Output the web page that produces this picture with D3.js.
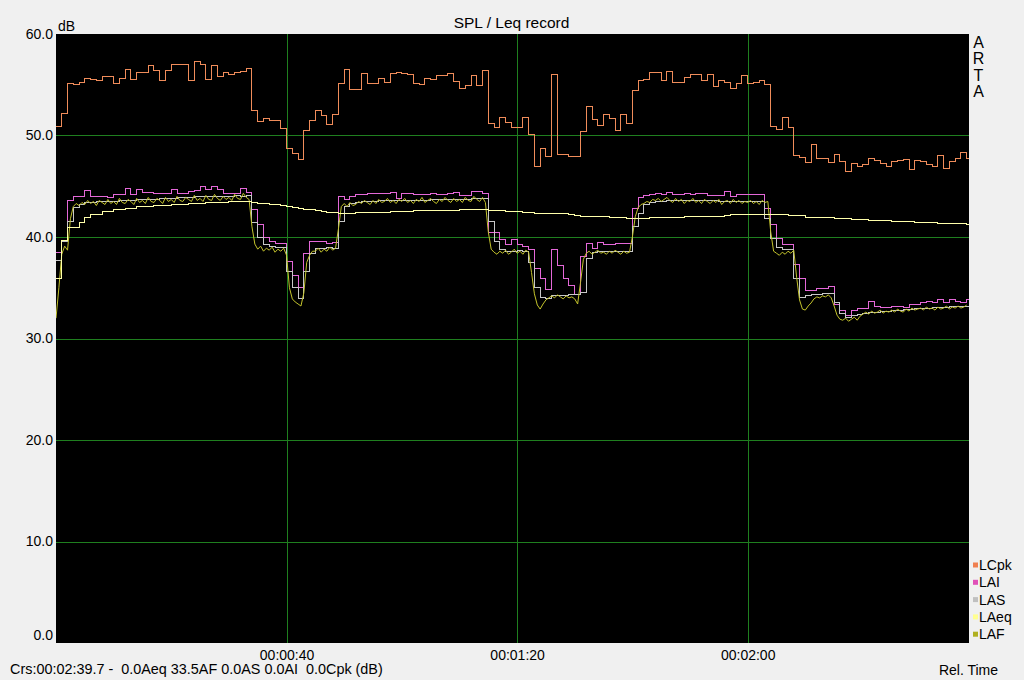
<!DOCTYPE html>
<html><head><meta charset="utf-8">
<script src="https://cdn.jsdelivr.net/npm/d3@7"></script>
<style>
html,body{margin:0;padding:0;background:#f0f0f0;}
svg{display:block;font-family:"Liberation Sans",Arial,sans-serif;}
</style></head><body>
<svg id="c" width="1024" height="680"></svg>
<script>
const title = "SPL / Leq record";
const yUnit = "dB";
const yTicks = [0,10,20,30,40,50,60];
const xTicks = [40,80,120];
const xTickLabels = ["00:00:40","00:01:20","00:02:00"];
const xDomain = [0,158.4];
const yDomain = [0,60];
const seriesNames = ["LCpk","LAI","LAS","LAeq","LAF"];
const lineColors = ["#F08C5A","#E468D8","#C8C8C8","#FFFFAA","#C4C42C"];
const legendColors = ["#F08050","#E050B8","#C0C0C0","#FFFF90","#B0B020"];
const statusText = "Crs:00:02:39.7 -  0.0Aeq 33.5AF 0.0AS 0.0AI  0.0Cpk (dB)";
const xLabel = "Rel. Time";
const brand = ["A","R","T","A"];

// one value per second (t = 0..158 s)
const lcpk = [50.9,52.2,55.1,55.0,55.2,55.6,55.5,55.4,55.85,55.85,
55.1,55.6,56.5,55.5,56.2,56.2,56.85,56.4,55.4,56.45,
57.0,57.0,57.0,55.4,57.3,56.95,55.5,56.9,55.8,56.2,
56.0,56.2,56.3,56.6,52.5,51.35,51.7,51.5,51.5,50.65,
48.7,48.2,47.65,50.5,51.5,52.5,51.95,51.1,52.05,55.15,
56.5,54.5,54.5,56.15,55.15,55.15,55.65,55.25,56.1,56.2,
56.15,56.05,55.15,55.05,55.65,55.55,55.95,55.95,56.1,55.35,
54.65,54.9,55.9,54.9,56.45,51.15,50.75,51.75,51.3,50.75,
50.75,51.8,50.05,46.95,48.7,47.9,56.05,48.1,48.1,47.95,
47.95,50.4,52.9,51.6,51.0,52.1,51.7,50.5,52.1,51.2,
54.4,55.45,55.55,56.2,56.2,55.45,56.3,55.25,55.25,55.7,
56.05,56.0,55.4,56.05,54.8,55.45,55.25,54.65,55.15,55.9,
55.15,55.25,55.45,55.0,50.9,50.55,51.75,50.75,48.05,47.8,
47.3,49.1,47.7,47.7,47.3,48.15,47.4,46.45,47.2,46.9,
47.1,47.7,47.5,47.2,46.9,47.4,47.5,47.6,46.65,47.55,
47.4,47.15,46.9,48.05,46.75,47.4,47.7,48.35,47.7];

const lai = [38.5,39.6,43.55,44.0,44.0,44.55,44.0,44.0,44.0,43.9,
44.15,44.15,44.8,44.15,44.7,44.4,44.4,44.25,44.25,44.25,
44.7,44.25,44.25,44.5,44.6,44.95,44.65,45.0,44.65,44.25,
44.25,44.25,44.8,44.4,42.7,41.2,40.0,39.6,39.35,39.35,
37.6,36.2,35.0,38.4,39.6,39.6,39.6,39.4,39.5,44.0,
43.7,44.0,44.15,44.15,44.25,44.25,44.3,44.25,44.4,43.8,
44.25,44.25,44.15,44.15,44.15,44.25,44.15,44.15,44.25,44.4,
44.05,44.05,44.5,44.5,44.25,40.45,40.45,39.8,39.25,39.8,
39.25,39.1,38.75,36.85,35.9,34.8,38.8,37.2,35.9,35.2,
34.35,38.1,39.35,38.9,39.5,39.25,39.25,39.35,39.35,39.35,
42.85,43.9,44.05,44.15,44.3,44.15,44.4,44.15,44.15,44.25,
44.15,44.25,44.25,44.05,44.05,44.05,44.5,44.0,44.15,44.15,
44.15,44.15,44.15,42.85,41.2,39.9,39.25,39.25,37.3,35.9,
34.7,34.7,34.9,34.9,35.15,33.35,32.8,32.3,32.8,32.95,
32.95,33.6,33.15,33.05,33.05,33.15,33.2,33.05,33.35,33.35,
33.5,33.6,33.5,33.8,33.5,33.8,33.6,33.5,33.8];

const las = [37.7,39.6,41.5,42.9,43.2,43.4,43.4,43.5,43.5,43.5,
43.5,43.6,43.6,43.6,43.7,43.7,43.7,43.7,43.8,43.8,
43.8,43.9,43.9,43.9,44.0,44.0,44.0,44.0,44.0,44.0,
44.0,44.1,44.0,44.1,41.4,40.0,39.25,39.1,39.0,39.0,
36.6,35.0,33.9,36.6,38.4,38.9,38.9,39.0,38.9,41.5,
43.0,43.3,43.4,43.5,43.5,43.5,43.6,43.6,43.6,43.6,
43.6,43.6,43.6,43.6,43.6,43.7,43.7,43.7,43.7,43.7,
43.7,43.7,43.8,43.8,43.8,41.5,39.6,38.8,38.6,38.6,
38.7,38.6,37.5,35.0,34.0,33.9,34.2,34.2,34.2,34.3,
34.3,34.5,37.9,38.5,38.6,38.6,38.6,38.6,38.6,38.6,
41.0,42.35,43.2,43.4,43.5,43.5,43.6,43.6,43.6,43.6,
43.6,43.6,43.6,43.6,43.6,43.5,43.5,43.5,43.5,43.5,
43.5,43.5,43.5,41.8,39.9,39.0,38.8,38.8,35.9,34.0,
34.2,34.3,34.3,34.4,34.4,33.5,32.5,32.1,32.3,32.4,
32.5,32.6,32.6,32.7,32.7,32.8,32.8,32.9,32.9,33.0,
33.0,33.0,33.1,33.1,33.1,33.2,33.2,33.2,33.2];

const laeq = [35.9,39.7,40.9,40.9,41.4,41.9,42.2,42.2,42.5,42.5,
42.7,42.7,42.85,42.85,43.0,43.0,43.0,43.1,43.1,43.1,
43.2,43.2,43.2,43.3,43.3,43.3,43.4,43.4,43.4,43.4,
43.45,43.45,43.45,43.45,43.35,43.3,43.3,43.2,43.2,43.1,
43.0,42.9,42.8,42.75,42.7,42.6,42.5,42.45,42.4,42.35,
42.35,42.35,42.4,42.4,42.4,42.4,42.4,42.45,42.5,42.5,
42.5,42.55,42.6,42.6,42.6,42.6,42.6,42.6,42.6,42.6,
42.7,42.7,42.7,42.7,42.7,42.65,42.6,42.6,42.55,42.5,
42.5,42.45,42.4,42.35,42.35,42.3,42.3,42.3,42.3,42.2,
42.15,42.05,42.05,42.05,42.05,42.0,41.95,41.95,41.95,41.85,
41.8,41.85,41.85,41.95,41.95,41.95,41.95,41.95,41.95,42.0,
42.05,42.05,42.05,42.05,42.05,42.05,42.15,42.2,42.2,42.2,
42.2,42.2,42.2,42.2,42.2,42.2,42.2,42.15,42.1,42.1,
41.95,41.95,41.95,41.95,41.9,41.85,41.85,41.85,41.75,41.75,
41.75,41.65,41.65,41.65,41.6,41.55,41.55,41.5,41.5,41.45,
41.45,41.4,41.4,41.35,41.35,41.3,41.3,41.3,41.25];

// LAF sampled every 0.5 s
const lafStep = 0.5;
const laf = [32.0,35.0,38.3,39.1,38.7,41.8,43.0,43.3,43.1,43.4,
43.2,43.6,43.3,43.5,43.1,43.6,43.4,43.2,43.7,43.3,
43.5,43.2,43.8,43.4,43.3,43.7,43.5,43.2,43.8,43.4,
43.6,43.3,43.9,43.5,43.4,43.8,43.6,43.3,43.9,43.5,
43.7,43.4,44.0,43.6,43.5,43.9,43.7,43.5,44.1,43.6,
43.8,43.5,44.1,43.7,43.6,44.2,43.8,43.6,44.0,43.7,
43.9,43.6,44.2,43.8,43.7,44.3,43.9,43.7,41.0,39.3,
38.8,39.1,38.6,38.9,38.7,39.0,38.5,38.8,38.6,38.9,
38.2,35.0,33.9,33.6,33.4,33.2,34.5,37.5,38.2,38.6,
38.6,38.9,38.5,38.8,38.6,39.0,38.7,38.9,40.8,43.0,
43.3,43.0,43.4,43.1,43.2,43.5,43.3,43.6,43.4,43.2,
43.6,43.3,43.7,43.4,43.5,43.8,43.4,43.6,43.3,43.7,
43.5,43.8,43.4,43.6,43.3,43.7,43.5,43.9,43.4,43.6,
43.8,43.5,43.3,43.7,43.5,43.9,43.6,43.4,43.8,43.5,
43.7,43.4,43.9,43.6,43.5,44.0,43.7,43.5,43.9,43.4,
40.5,38.8,38.5,38.3,38.6,38.4,38.7,38.3,38.5,38.8,
38.4,38.6,38.3,38.7,38.5,36.5,34.4,33.3,32.9,33.4,
33.8,34.0,34.2,34.0,34.3,34.1,33.9,34.2,34.0,34.1,
33.9,33.4,35.5,37.8,38.4,38.6,38.3,38.5,38.7,38.4,
38.5,38.3,38.6,38.4,38.7,38.5,38.3,38.6,38.4,38.5,
40.0,42.0,42.9,43.2,43.3,43.5,43.4,43.7,43.6,43.8,
43.5,43.7,43.9,43.6,43.4,43.8,43.5,43.7,43.3,43.6,
43.5,43.8,43.4,43.6,43.3,43.7,43.5,43.3,43.6,43.4,
43.7,43.2,43.5,43.6,43.3,43.7,43.4,43.6,43.3,43.5,
43.4,43.6,43.3,43.5,43.2,43.6,43.4,43.5,40.5,38.6,
38.4,38.2,38.5,38.3,38.6,38.4,38.7,36.0,33.8,32.9,
32.8,33.2,33.5,33.9,34.1,34.0,34.2,34.1,34.3,34.0,
33.2,32.3,31.9,31.8,32.0,31.7,31.9,32.1,31.8,32.2,
32.4,32.6,32.4,32.7,32.5,32.6,32.8,32.5,32.7,32.6,
32.8,32.6,32.9,32.7,32.6,32.9,32.7,33.0,32.8,32.9,
33.0,32.8,33.1,32.9,33.0,32.8,33.1,32.9,33.0,33.2,
32.9,33.1,33.0,33.2,33.0,33.1,33.3];

const svg = d3.select("#c");
const PL = 56, PR = 969, PT = 34, PB = 643;
const x = d3.scaleLinear().domain(xDomain).range([PL, PR]);
const y = d3.scaleLinear().domain(yDomain).range([PB, PT]);

svg.append("rect").attr("x", PL).attr("y", PT).attr("width", PR - PL).attr("height", PB - PT).attr("fill", "#000");

svg.append("defs").append("clipPath").attr("id", "clip")
  .append("rect").attr("x", PL).attr("y", PT).attr("width", PR - PL).attr("height", PB - PT);

const grid = svg.append("g").attr("stroke", "#1f7f1f").attr("stroke-width", 1).attr("shape-rendering", "crispEdges");
grid.selectAll("line.h").data(yTicks.filter(v => v > yDomain[0] && v < yDomain[1])).join("line")
  .attr("class", "h").attr("x1", PL).attr("x2", PR)
  .attr("y1", d => Math.round(y(d)) + 0.5).attr("y2", d => Math.round(y(d)) + 0.5);
grid.selectAll("line.v").data(xTicks).join("line")
  .attr("class", "v").attr("y1", PT).attr("y2", PB)
  .attr("x1", d => Math.round(x(d)) + 0.5).attr("x2", d => Math.round(x(d)) + 0.5);

// axes
const yAxis = svg.append("g").attr("transform", `translate(${PL},0)`)
  .call(d3.axisLeft(y).tickValues(yTicks).tickFormat(d3.format(".1f")).tickSize(0).tickPadding(3));
yAxis.select(".domain").remove();
yAxis.selectAll("text").attr("font-size", 14).attr("fill", "#000").attr("font-family", "Liberation Sans, Arial, sans-serif")
  .attr("dy", d => d === yDomain[0] ? "-0.25em" : "0.32em");

const xAxis = svg.append("g").attr("transform", `translate(0,${PB})`)
  .call(d3.axisBottom(x).tickValues(xTicks).tickFormat((d, i) => xTickLabels[i]).tickSize(0).tickPadding(7));
xAxis.select(".domain").remove();
xAxis.selectAll("text").attr("font-size", 14).attr("fill", "#000").attr("font-family", "Liberation Sans, Arial, sans-serif");

// series
const plot = svg.append("g").attr("clip-path", "url(#clip)");
const stepLine = d3.line().x(d => x(d[0])).y(d => y(d[1])).curve(d3.curveStepAfter);
const linLine = d3.line().x(d => x(d[0])).y(d => y(d[1]));
function stepPts(arr) {
  const p = arr.map((v, i) => [i, v]);
  p.push([xDomain[1], arr[arr.length - 1]]);
  return p;
}
const stepSeries = [lcpk, lai, las];
stepSeries.forEach((arr, k) => {
  plot.append("path").attr("d", stepLine(stepPts(arr))).attr("fill", "none")
    .attr("stroke", lineColors[k]).attr("stroke-width", 1).attr("shape-rendering", "crispEdges");
});
plot.append("path").attr("d", linLine(laf.map((v, i) => [i * lafStep, v]))).attr("fill", "none")
  .attr("stroke", lineColors[4]).attr("stroke-width", 1);
plot.append("path").attr("d", stepLine(stepPts(laeq))).attr("fill", "none")
  .attr("stroke", lineColors[3]).attr("stroke-width", 1).attr("shape-rendering", "crispEdges");

// texts
svg.append("text").attr("x", 511.5).attr("y", 27.5).attr("text-anchor", "middle").attr("font-size", 15.5).text(title);
svg.append("text").attr("x", 58).attr("y", 30.5).attr("font-size", 14).text(yUnit);
svg.append("g").selectAll("text").data(brand).join("text")
  .attr("x", 978.5).attr("y", (d, i) => 48 + i * 16.3).attr("text-anchor", "middle").attr("font-size", 16).text(d => d);

const leg = svg.append("g").selectAll("g").data(seriesNames).join("g")
  .attr("transform", (d, i) => `translate(973,${570 + i * 17.3})`);
leg.append("rect").attr("x", 0).attr("y", -7.5).attr("width", 5).attr("height", 5).attr("fill", (d, i) => legendColors[i]);
leg.append("text").attr("x", 6).attr("y", 0).attr("font-size", 14).text(d => d);

svg.append("text").attr("x", 10).attr("y", 674).attr("font-size", 14.4).attr("xml:space", "preserve").style("white-space", "pre").text(statusText);
svg.append("text").attr("x", 998).attr("y", 675).attr("text-anchor", "end").attr("font-size", 14).text(xLabel);
</script>
</body></html>
